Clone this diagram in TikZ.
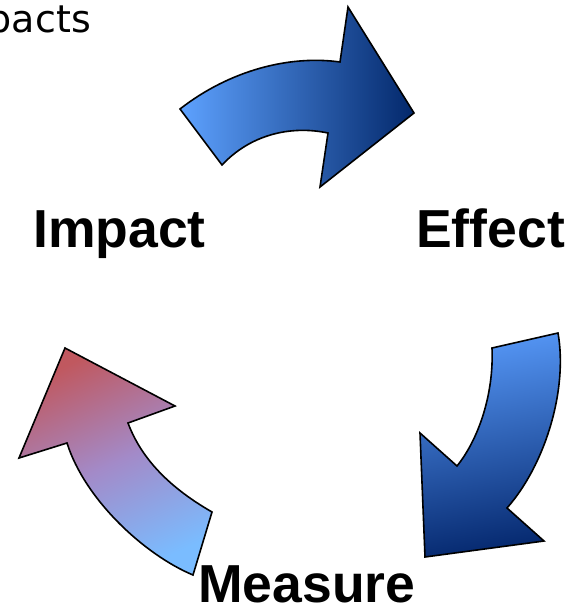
\documentclass[tikz,border=0pt]{standalone}
\usepackage{fontspec}
\setmainfont{Liberation Sans}
\newfontfamily\titlefont{DejaVu Sans}
\usepackage{tikz}

\definecolor{paleblue}{RGB}{94,162,255}
\definecolor{navyblue}{RGB}{3,40,107}
\definecolor{skyblue}{RGB}{85,150,245}
\definecolor{deepblue}{RGB}{5,40,110}
\definecolor{rosered}{RGB}{192,88,95}
\definecolor{lavender}{RGB}{163,138,200}
\definecolor{softblue}{RGB}{122,188,255}

\begin{document}
\begin{tikzpicture}[x=1pt,y=-1pt,
    bigarrow/.style={draw=black, line width=1.6pt, line join=miter},
    word/.style={inner sep=0pt, font=\fontsize{53.5}{60}\selectfont\bfseries}]
      \useasboundingbox (0,0) rectangle (575,607);

      % title, cut at the left edge
      \node[anchor=base east, inner sep=0pt, font=\titlefont\fontsize{38}{44}\selectfont]
                        (title) at (91,33) {pacts};

      % Impact -> Effect
      \shade[bigarrow, left color=paleblue, right color=navyblue]
            (180,109) .. controls (230,70) and (290,55) .. (340,62)
            -- (348,7) -- (414,113) -- (320,187) -- (328,133)
            .. controls (290,125) and (250,135) .. (222,165) -- cycle;

      % Effect -> Measure
      \shade[bigarrow, top color=skyblue, bottom color=deepblue, shading angle=10]
            (492,348) -- (558,333)
            .. controls (568,390) and (545,465) .. (507,508)
            -- (544,541) -- (425,557) -- (420,433) -- (457,466)
            .. controls (478,440) and (494,395) .. (492,348) -- cycle;

      % Measure -> Impact
      \shade[bigarrow, top color=rosered, bottom color=softblue, middle color=lavender,
             shading angle=25]
            (212,512) -- (193,575)
            .. controls (145,555) and (85,500) .. (67,443)
            -- (19,458) -- (65,348) -- (175,406) -- (128,423)
            .. controls (140,455) and (165,485) .. (212,512) -- cycle;

      % labels
      \node[word, anchor=base west] (impact)  at (33,247)  {Impact};
      \node[word, anchor=base west] (effect)  at (416,247) {Effect};
      \node[word, anchor=base west] (measure) at (198,602) {Measure};
\end{tikzpicture}
\end{document}
